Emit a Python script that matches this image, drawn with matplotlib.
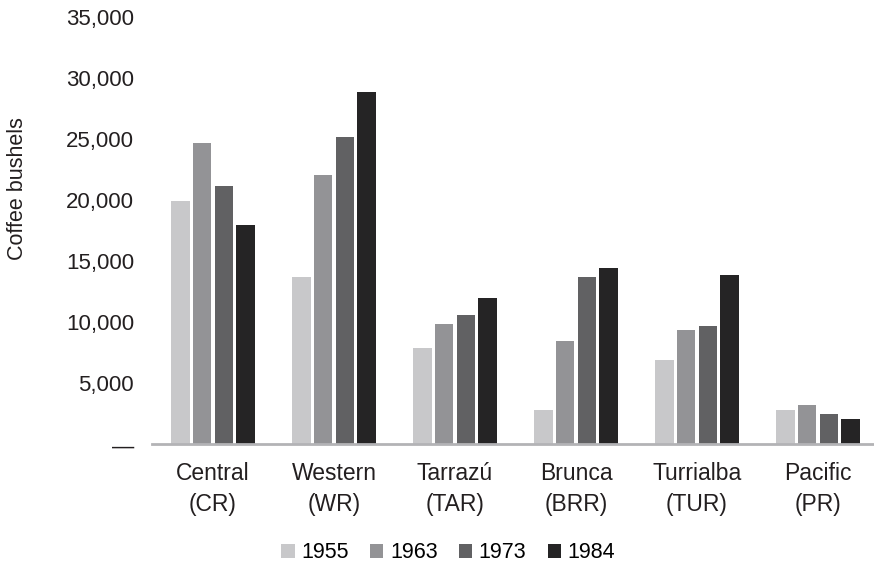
import numpy as np
import matplotlib
matplotlib.use("Agg")
import matplotlib.pyplot as plt
from matplotlib.patches import Patch

# -----------------------------------------------------
# Coffee production by region
# -----------------------------------------------------

regions = ["Central\n(CR)", "Western\n(WR)", "Tarrazú\n(TAR)",
           "Brunca\n(BRR)", "Turrialba\n(TUR)", "Pacific\n(PR)"]
years = ["1955", "1963", "1973", "1984"]

bushels_1955 = [19950, 13720, 7870, 2810, 6940, 2810]
bushels_1963 = [24720, 22100, 9860, 8490, 9370, 3250]
bushels_1973 = [21170, 25170, 10620, 13690, 9700, 2490]
bushels_1984 = [17980, 28850, 11990, 14450, 13850, 2050]

colors = ["#c8c8ca", "#939396", "#616163", "#252425"]

yticks = [0, 5000, 10000, 15000, 20000, 25000, 30000, 35000]
ytick_labels = ["—", "5,000", "10,000", "15,000", "20,000",
                "25,000", "30,000", "35,000"]

plt.rcParams["font.family"] = ["Liberation Sans", "DejaVu Sans"]

fig = plt.figure(figsize=(8.74, 5.63), dpi=100)
ax = fig.add_axes([0.1739, 0.2108, 0.8261, 0.7585])

x = np.arange(len(regions))
step = 0.179
series = [bushels_1955, bushels_1963, bushels_1973, bushels_1984]

for i, values in enumerate(series):
    ax.bar(x + (i - 1.5) * step, values, width=0.150,
           color=colors[i], edgecolor="none", zorder=1)

ax.set_xlim(-0.504, 5.463)
ax.set_ylim(0, 35000)

ax.set_xticks(x)
ax.set_xticklabels(regions, fontsize=16.5, color="#231f20", linespacing=1.4)
ax.set_yticks(yticks)
ax.set_yticklabels(ytick_labels, fontsize=16, color="#231f20")
ax.tick_params(axis="both", length=0)
ax.tick_params(axis="x", pad=13)
ax.tick_params(axis="y", pad=13)

for side in ["top", "right", "left"]:
    ax.spines[side].set_visible(False)
ax.spines["bottom"].set_color("#b3b3b6")
ax.spines["bottom"].set_linewidth(2)

ax.set_ylabel("Coffee bushels", fontsize=15.5, color="#231f20")
ax.yaxis.set_label_coords(-0.172, 0.6)

handles = [Patch(facecolor=c, edgecolor="none") for c in colors]
fig.legend(handles, years, loc="center", bbox_to_anchor=(0.513, 0.018),
           ncol=4, frameon=False, fontsize=15.5, handlelength=0.62,
           handleheight=0.62, handletextpad=0.3, columnspacing=1.0)

fig.savefig("out.png", dpi=100)
